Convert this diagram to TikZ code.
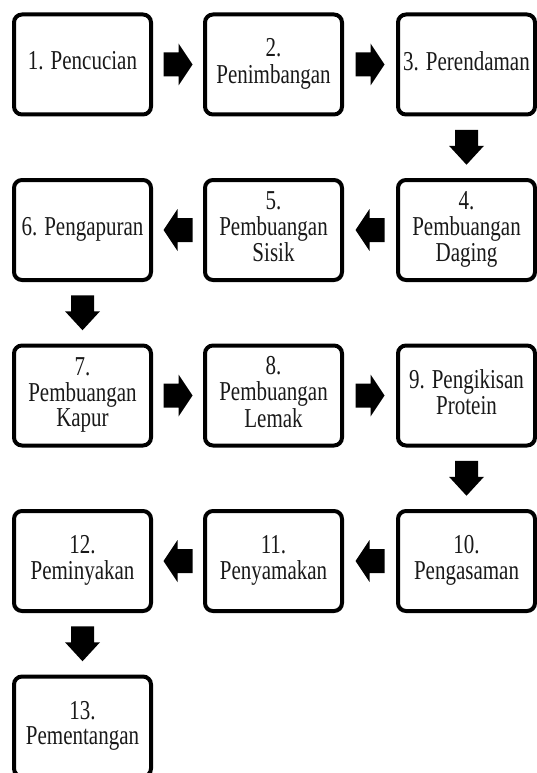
\documentclass[tikz,border=0pt]{standalone}
\usepackage{fontspec}
\setmainfont{Liberation Serif}
\usepackage{graphicx}
\usetikzlibrary{calc}
\newcommand{\bt}[1]{\scalebox{1}[1.3]{\begin{tabular}{@{}c@{}}#1\end{tabular}}}
\tikzset{
  stepbox/.style={draw=black, line width=4pt, rounded corners=8pt, fill=white,
    minimum width=137pt, minimum height=100pt, inner sep=0pt, align=center,
    font=\fontsize{21}{18.5}\selectfont, text=black!90},
  harr/.pic={\fill[black] (-14.5,-12) -- (0.5,-12) -- (0.5,-21) -- (14.5,0) -- (0.5,21) -- (0.5,12) -- (-14.5,12) -- cycle;},
  larr/.pic={\fill[black] (14.5,-12) -- (-0.5,-12) -- (-0.5,-21) -- (-14.5,0) -- (-0.5,21) -- (-0.5,12) -- (14.5,12) -- cycle;},
  varr/.pic={\fill[black] (-11.5,-17.5) -- (11.5,-17.5) -- (11.5,-1.5) -- (17.5,-1.5) -- (0,17.5) -- (-17.5,-1.5) -- (-11.5,-1.5) -- cycle;}
}
\begin{document}
\begin{tikzpicture}[x=1pt,y=-1pt]
\useasboundingbox (0,0) rectangle (537,773);
\clip (0,0) rectangle (537,773);
\fill[white] (0,0) rectangle (537,773);
% row 1
\node[stepbox] (b1) at (82.5,64.5) {\bt{1. Pencucian}};
\node[stepbox] (b2) at (273.5,64.5) {\bt{2.\\Penimbangan}};
\node[stepbox] (b3) at (466.5,64.5) {\bt{3. Perendaman}};
% row 2
\node[stepbox] (b4) at (466.5,230) {\bt{4.\\Pembuangan\\Daging}};
\node[stepbox] (b5) at (273.5,230) {\bt{5.\\Pembuangan\\Sisik}};
\node[stepbox] (b6) at (82.5,230) {\bt{6. Pengapuran}};
% row 3
\node[stepbox] (b7) at (82.5,395.5) {\bt{7.\\Pembuangan\\Kapur}};
\node[stepbox] (b8) at (273.5,395.5) {\bt{8.\\Pembuangan\\Lemak}};
\node[stepbox] (b9) at (466.5,395.5) {\bt{9. Pengikisan\\Protein}};
% row 4
\node[stepbox] (b10) at (466.5,561) {\bt{10.\\Pengasaman}};
\node[stepbox] (b11) at (273.5,561) {\bt{11.\\Penyamakan}};
\node[stepbox] (b12) at (82.5,561) {\bt{12.\\Peminyakan}};
% row 5
\node[stepbox] (b13) at (82.5,726.5) {\bt{13.\\Pementangan}};
% arrows
\pic at ($(b1)!0.5!(b2)$) {harr};
\pic at ($(b2)!0.5!(b3)$) {harr};
\pic at ($(b3)!0.5!(b4)$) {varr};
\pic at ($(b4)!0.5!(b5)$) {larr};
\pic at ($(b5)!0.5!(b6)$) {larr};
\pic at ($(b6)!0.5!(b7)$) {varr};
\pic at ($(b7)!0.5!(b8)$) {harr};
\pic at ($(b8)!0.5!(b9)$) {harr};
\pic at ($(b9)!0.5!(b10)$) {varr};
\pic at ($(b10)!0.5!(b11)$) {larr};
\pic at ($(b11)!0.5!(b12)$) {larr};
\pic at ($(b12)!0.5!(b13)$) {varr};
\end{tikzpicture}
\end{document}
